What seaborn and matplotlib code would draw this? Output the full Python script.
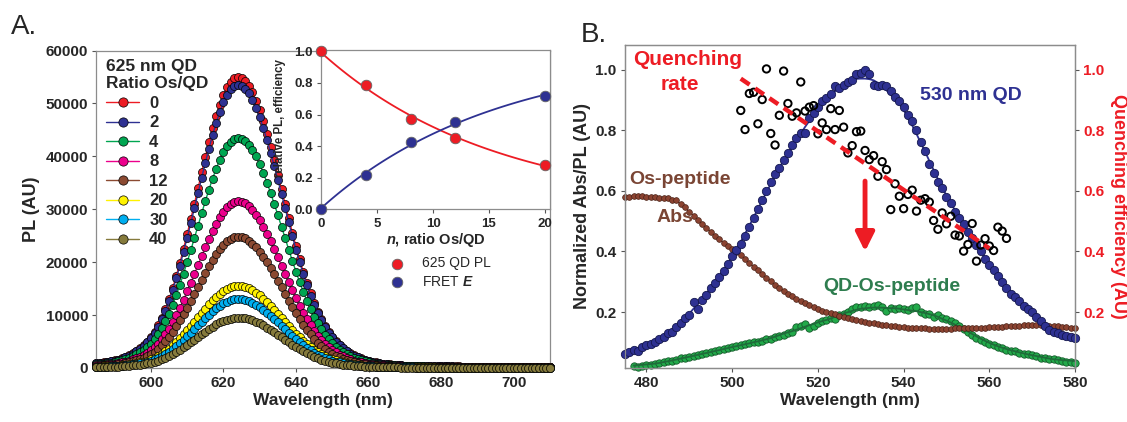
import numpy as np
import pandas as pd
import matplotlib
matplotlib.use("Agg")
import matplotlib.pyplot as plt
import seaborn as sns

# ---------------- Panel A: 625 nm QD PL vs Os/QD ratio ----------------
ratios = [0, 2, 4, 8, 12, 20, 30, 40]
peak_pl = [55000, 53500, 43500, 31500, 24800, 15500, 13000, 9500]
colors_a = ["#ED1C24", "#2E3192", "#00A651", "#EC008C", "#8B4A32",
            "#FFF200", "#00AEEF", "#857A3C"]

# PL lineshape (% of peak), 1 nm steps from 585 nm
start_wl_a = 585
shape_pct = [
    1.7, 1.8, 1.9, 2.1, 2.3, 2.6, 2.9, 3.3, 3.8, 4.4,
    5.1, 5.9, 6.8, 7.9, 9.1, 10.6, 12.4, 14.6, 17.2, 20.2,
    23.6, 27.5, 31.7, 36.2, 41.0, 46.0, 51.2, 56.5, 61.8, 67.2,
    72.5, 77.5, 82.3, 86.6, 90.5, 93.8, 96.4, 98.4, 99.6, 100.0,
    99.7, 98.7, 97.0, 94.7, 91.9, 88.5, 84.7, 80.5, 76.0, 71.3,
    66.4, 61.4, 56.4, 51.4, 46.5, 41.8, 37.3, 33.1, 29.2, 25.6,
    22.3, 19.4, 16.8, 14.5, 12.5, 10.8, 9.3, 8.0, 6.9, 5.9,
    5.1, 4.4, 3.8, 3.3, 2.85, 2.5, 2.2, 1.9, 1.7, 1.5,
    1.35, 1.2, 1.1, 1.0, 0.9, 0.85, 0.8, 0.75, 0.7, 0.68,
    0.66, 0.64, 0.62, 0.6, 0.58, 0.56, 0.55, 0.54, 0.53, 0.52,
    0.51, 0.5, 0.5, 0.49, 0.49, 0.48, 0.48, 0.47, 0.47, 0.46,
    0.46, 0.46, 0.45, 0.45, 0.45, 0.44, 0.44, 0.44, 0.43, 0.43,
    0.43, 0.42, 0.42, 0.42, 0.42, 0.42,
]

# inset: relative PL and FRET efficiency
inset_n = [0, 4, 8, 12, 20]
rel_pl = [1.0, 0.785, 0.575, 0.45, 0.28]
fret_e = [0.0, 0.215, 0.425, 0.55, 0.72]

# ---------------- Panel B: 530 nm QD / Os-peptide overlap ----------------
start_wl_b = 475
qd530_pl = [
    .060, .068, .075, .072, .085, .090, .096, .100, .112, .118,
    .130, .135, .150, .165, .180, .190, .232, .210, .240, .255,
    .280, .295, .315, .335, .360, .385, .405, .425, .450, .480,
    .510, .540, .570, .600, .630, .655, .675, .700, .725, .750,
    .775, .790, .790, .840, .855, .875, .895, .905, .920, .945,
    .940, .950, .960, .965, .985, .990, 1.00, .985, .950, .945,
    .950, .945, .930, .910, .895, .875, .850, .830, .800, .760,
    .730, .690, .660, .630, .610, .580, .560, .530, .510, .490,
    .465, .445, .420, .400, .375, .355, .340, .320, .300, .280,
    .260, .250, .235, .220, .210, .200, .185, .170, .155, .140,
    .135, .130, .125, .120, .118, .115,
]
os_abs = [
    .578, .580, .582, .582, .582, .580, .580, .578, .575, .575,
    .575, .570, .568, .555, .545, .530, .518, .505, .492, .478,
    .465, .452, .440, .428, .418, .408, .398, .388, .375, .362,
    .350, .338, .325, .313, .302, .290, .280, .270, .260, .252,
    .244, .236, .229, .222, .216, .210, .205, .200, .196, .192,
    .188, .184, .180, .177, .174, .171, .168, .165, .163, .160,
    .158, .156, .154, .153, .151, .150, .148, .147, .147, .146,
    .146, .145, .145, .145, .145, .145, .145, .146, .146, .146,
    .147, .147, .148, .148, .149, .150, .150, .151, .152, .153,
    .154, .155, .155, .156, .156, .157, .157, .156, .156, .155,
    .155, .154, .152, .150, .148, .146,
]
start_wl_green = 477
qd_os_pl = [
    .022, .020, .022, .025, .024, .028, .032, .035, .038, .040,
    .043, .047, .050, .053, .055, .058, .062, .065, .068, .072,
    .075, .078, .080, .085, .088, .090, .095, .098, .100, .102,
    .105, .110, .112, .118, .120, .125, .130, .135, .150, .155,
    .160, .148, .155, .165, .170, .175, .180, .178, .190, .195,
    .200, .210, .215, .218, .220, .215, .220, .222, .215, .205,
    .212, .210, .212, .210, .208, .212, .215, .200, .195, .192,
    .185, .190, .180, .178, .170, .165, .155, .145, .135, .125,
    .115, .108, .100, .095, .090, .085, .080, .076, .073, .070,
    .066, .063, .060, .058, .055, .050, .048, .045, .045, .042,
    .040, .036, .034, .033,
]
start_wl_q = 502
quench_eff = [
    .865, .802, .921, .925, .821, .901, 1.002, .789, .751, .849,
    .995, .888, .846, .857, .959, .863, .876, .881, .788, .824,
    .802, .871, .802, .865, .810, .725, .749, .795, .797, .733,
    .703, .716, .648, .696, .670, .538, .623, .582, .541, .588,
    .602, .533, .569, .574, .563, .502, .473, .527, .491, .516,
    .454, .451, .401, .423, .492, .368, .421, .442, .418, .403,
    .480, .467, .443,
]
rate_wl = [502, 560]
rate_val = [0.97, 0.41]
arrow_wl = 531
arrow_from, arrow_to = 0.632, 0.40

RED = "#ED1C24"
NAVY = "#2E3192"
BROWN = "#8B4331"
GREEN = "#22AA4A"
SPINE = "#8C8C8C"

sns.set_theme(style="ticks")
plt.rcParams["font.family"] = ["Liberation Sans", "DejaVu Sans"]
plt.rcParams["font.weight"] = "bold"
plt.rcParams["axes.labelweight"] = "bold"
plt.rcParams["mathtext.fontset"] = "custom"
plt.rcParams["mathtext.rm"] = "Liberation Sans:bold"
plt.rcParams["mathtext.it"] = "Liberation Sans:italic:bold"
plt.rcParams["mathtext.bf"] = "Liberation Sans:bold"


def style_axes(ax, size=10.5):
    for s in ax.spines.values():
        s.set_color(SPINE)
        s.set_linewidth(0.9)
    ax.tick_params(direction="out", length=3, width=0.8, color="#555555",
                   labelsize=size, pad=3)
    for lab in ax.get_xticklabels() + ax.get_yticklabels():
        lab.set_fontweight("bold")


fig = plt.figure(figsize=(11.27, 4.22), dpi=100)
ax_a = fig.add_axes([0.0856, 0.128, 0.4024, 0.7523])
ax_in = fig.add_axes([0.2851, 0.504, 0.2027, 0.3787])
ax_b = fig.add_axes([0.5546, 0.1291, 0.3993, 0.7643])

# ---- panel A spectra
wl_a = start_wl_a + np.arange(len(shape_pct))
shape = np.array(shape_pct) / 100.0
spectra = pd.DataFrame({f"{r}": p * shape for r, p in zip(ratios, peak_pl)})
spectra["wl"] = wl_a
for i, (r, col) in enumerate(zip(ratios, colors_a)):
    sns.lineplot(x="wl", y=f"{r}", data=spectra, ax=ax_a, color=col, lw=1.0,
                 marker="o", markersize=5.8, markeredgecolor="black",
                 markeredgewidth=0.5, label=str(r), clip_on=False,
                 errorbar=None, zorder=2 + i)
ax_a.set_xlim(585, 710)
ax_a.set_ylim(0, 60000)
ax_a.set_xticks([600, 620, 640, 660, 680, 700])
ax_a.set_yticks(range(0, 60001, 10000))
ax_a.set_xlabel("Wavelength (nm)", fontsize=12.5, labelpad=2)
ax_a.set_ylabel("PL (AU)", fontsize=13, labelpad=4)
style_axes(ax_a, 11)
leg = ax_a.legend(title="625 nm QD\nRatio Os/QD", loc="upper left",
                  bbox_to_anchor=(-0.005, 1.01), frameon=False, fontsize=12,
                  title_fontproperties={"weight": "bold", "size": 12.5},
                  handlelength=2.0, handletextpad=0.6, labelspacing=0.27,
                  borderaxespad=0.3, markerscale=1.15)
leg._legend_box.align = "left"
for t in leg.get_texts():
    t.set_fontweight("bold")

# ---- inset
inset = pd.DataFrame({"n": inset_n, "pl": rel_pl, "e": fret_e})
n_fit = np.linspace(0, 20, 120)
c_pl = np.polyfit(inset["n"], np.log(inset["pl"]), 1)
c_e = np.polyfit(inset["n"], np.log(1 - inset["e"]), 1)
sns.lineplot(x=n_fit, y=np.exp(np.polyval(c_pl, n_fit)), ax=ax_in,
             color=RED, lw=1.3, errorbar=None)
sns.lineplot(x=n_fit, y=1 - np.exp(np.polyval(c_e, n_fit)), ax=ax_in,
             color=NAVY, lw=1.3, errorbar=None)
sns.scatterplot(x="n", y="pl", data=inset, ax=ax_in, color=RED, s=58,
                edgecolor="#666666", linewidth=0.6, zorder=5, clip_on=False,
                label="625 QD PL")
sns.scatterplot(x="n", y="e", data=inset, ax=ax_in, color=NAVY, s=58,
                edgecolor="#666666", linewidth=0.6, zorder=5, clip_on=False,
                label="FRET $E$")
ax_in.set_xlim(0, 20.45)
ax_in.set_ylim(0, 1.012)
ax_in.set_xticks([0, 5, 10, 15, 20])
ax_in.set_yticks([0, 0.2, 0.4, 0.6, 0.8, 1.0])
ax_in.set_yticklabels(["0.0", "0.2", "0.4", "0.6", "0.8", "1.0"])
ax_in.set_xlabel("$n$, ratio Os/QD", fontsize=10.5, labelpad=1)
ax_in.set_ylabel("relative PL, efficiency", fontsize=8.3, labelpad=1)
ax_in.yaxis.set_label_coords(-0.155, 0.57)
ax_in.set_facecolor("white")
style_axes(ax_in, 9.5)
ax_in.legend(loc="upper left", bbox_to_anchor=(0.245, -0.26), frameon=False,
             prop={"weight": "normal", "size": 10}, handletextpad=0.8,
             labelspacing=0.3, borderaxespad=0)

# ---- panel B
wl_b = start_wl_b + np.arange(len(qd530_pl))
wl_g = start_wl_green + np.arange(len(qd_os_pl))
wl_q = start_wl_q + np.arange(len(quench_eff))
spec_b = pd.DataFrame({"wl": wl_b, "qd": qd530_pl, "abs": os_abs})
spec_g = pd.DataFrame({"wl": wl_g, "qdos": qd_os_pl})
spec_b["qd_s"] = spec_b["qd"].rolling(9, center=True, min_periods=1).mean()
spec_g["qdos_s"] = spec_g["qdos"].rolling(11, center=True, min_periods=1).mean()

sns.scatterplot(x="wl", y="qdos", data=spec_g, ax=ax_b, color=GREEN, s=28,
                edgecolor="#145A2A", linewidth=0.6, zorder=2, clip_on=False)
sns.lineplot(x="wl", y="qdos_s", data=spec_g, ax=ax_b, color="#1F6B3A",
             lw=1.3, zorder=2.5, errorbar=None)
sns.scatterplot(x="wl", y="abs", data=spec_b, ax=ax_b, color=BROWN, s=17,
                edgecolor="#4A2218", linewidth=0.5, zorder=3, clip_on=False)
sns.lineplot(x="wl", y="abs", data=spec_b, ax=ax_b, color=BROWN, lw=1.0,
             zorder=2.8, errorbar=None)
sns.scatterplot(x="wl", y="qd", data=spec_b, ax=ax_b, color=NAVY, s=36,
                edgecolor="#15184F", linewidth=0.6, zorder=4, clip_on=False)
sns.lineplot(x="wl", y="qd_s", data=spec_b, ax=ax_b, color=NAVY, lw=1.3,
             zorder=3.9, errorbar=None)
sns.scatterplot(x=wl_q, y=quench_eff, ax=ax_b, s=28, facecolor="none",
                edgecolor="black", linewidth=1.4, zorder=5)
sns.lineplot(x=rate_wl, y=rate_val, ax=ax_b, color=RED, lw=3.2,
             dashes=False, zorder=6, errorbar=None)
ax_b.lines[-1].set_dashes((2.4, 1.5))
ax_b.annotate("", xy=(arrow_wl, arrow_to), xytext=(arrow_wl, arrow_from),
              arrowprops=dict(arrowstyle="-|>", color=RED, lw=3.5,
                              mutation_scale=28, shrinkA=0, shrinkB=0),
              zorder=7)

ax_b.set_xlim(475, 580)
ax_b.set_ylim(0.017, 1.081)
ax_b.set_xticks([480, 500, 520, 540, 560, 580])
ax_b.set_yticks([0.2, 0.4, 0.6, 0.8, 1.0])
ax_b.set_xlabel("Wavelength (nm)", fontsize=12.5, labelpad=2)
ax_b.set_ylabel("Normalized Abs/PL (AU)", fontsize=13, labelpad=3)
style_axes(ax_b, 11)

ax_r = ax_b.twinx()
ax_r.set_ylim(0.017, 1.081)
ax_r.set_yticks([0.2, 0.4, 0.6, 0.8, 1.0])
style_axes(ax_r, 11)
for lab in ax_r.get_yticklabels():
    lab.set_color(RED)
ax_r.set_ylabel("Quenching efficiency (AU)", fontsize=13, color=RED,
                rotation=270, labelpad=16)

ax_b.text(489.6, 1.034, "Quenching", color=RED, fontsize=15, ha="center",
          va="center")
ax_b.text(487.8, 0.949, "rate", color=RED, fontsize=15, ha="center",
          va="center")
ax_b.text(555.6, 0.915, "530 nm QD", color=NAVY, fontsize=14, ha="center",
          va="center")
ax_b.text(487.8, 0.636, "Os-peptide", color="#7A4534", fontsize=14,
          ha="center", va="center")
ax_b.text(486.6, 0.512, "Abs", color="#7A4534", fontsize=14, ha="center",
          va="center")
ax_b.text(537.2, 0.283, "QD-Os-peptide", color="#2E7D4F", fontsize=14,
          ha="center", va="center")

fig.text(0.0095, 0.936, "A.", fontsize=20, fontweight="normal", va="center")
fig.text(0.5155, 0.917, "B.", fontsize=20, fontweight="normal", va="center")

fig.savefig("out.png", dpi=100)
